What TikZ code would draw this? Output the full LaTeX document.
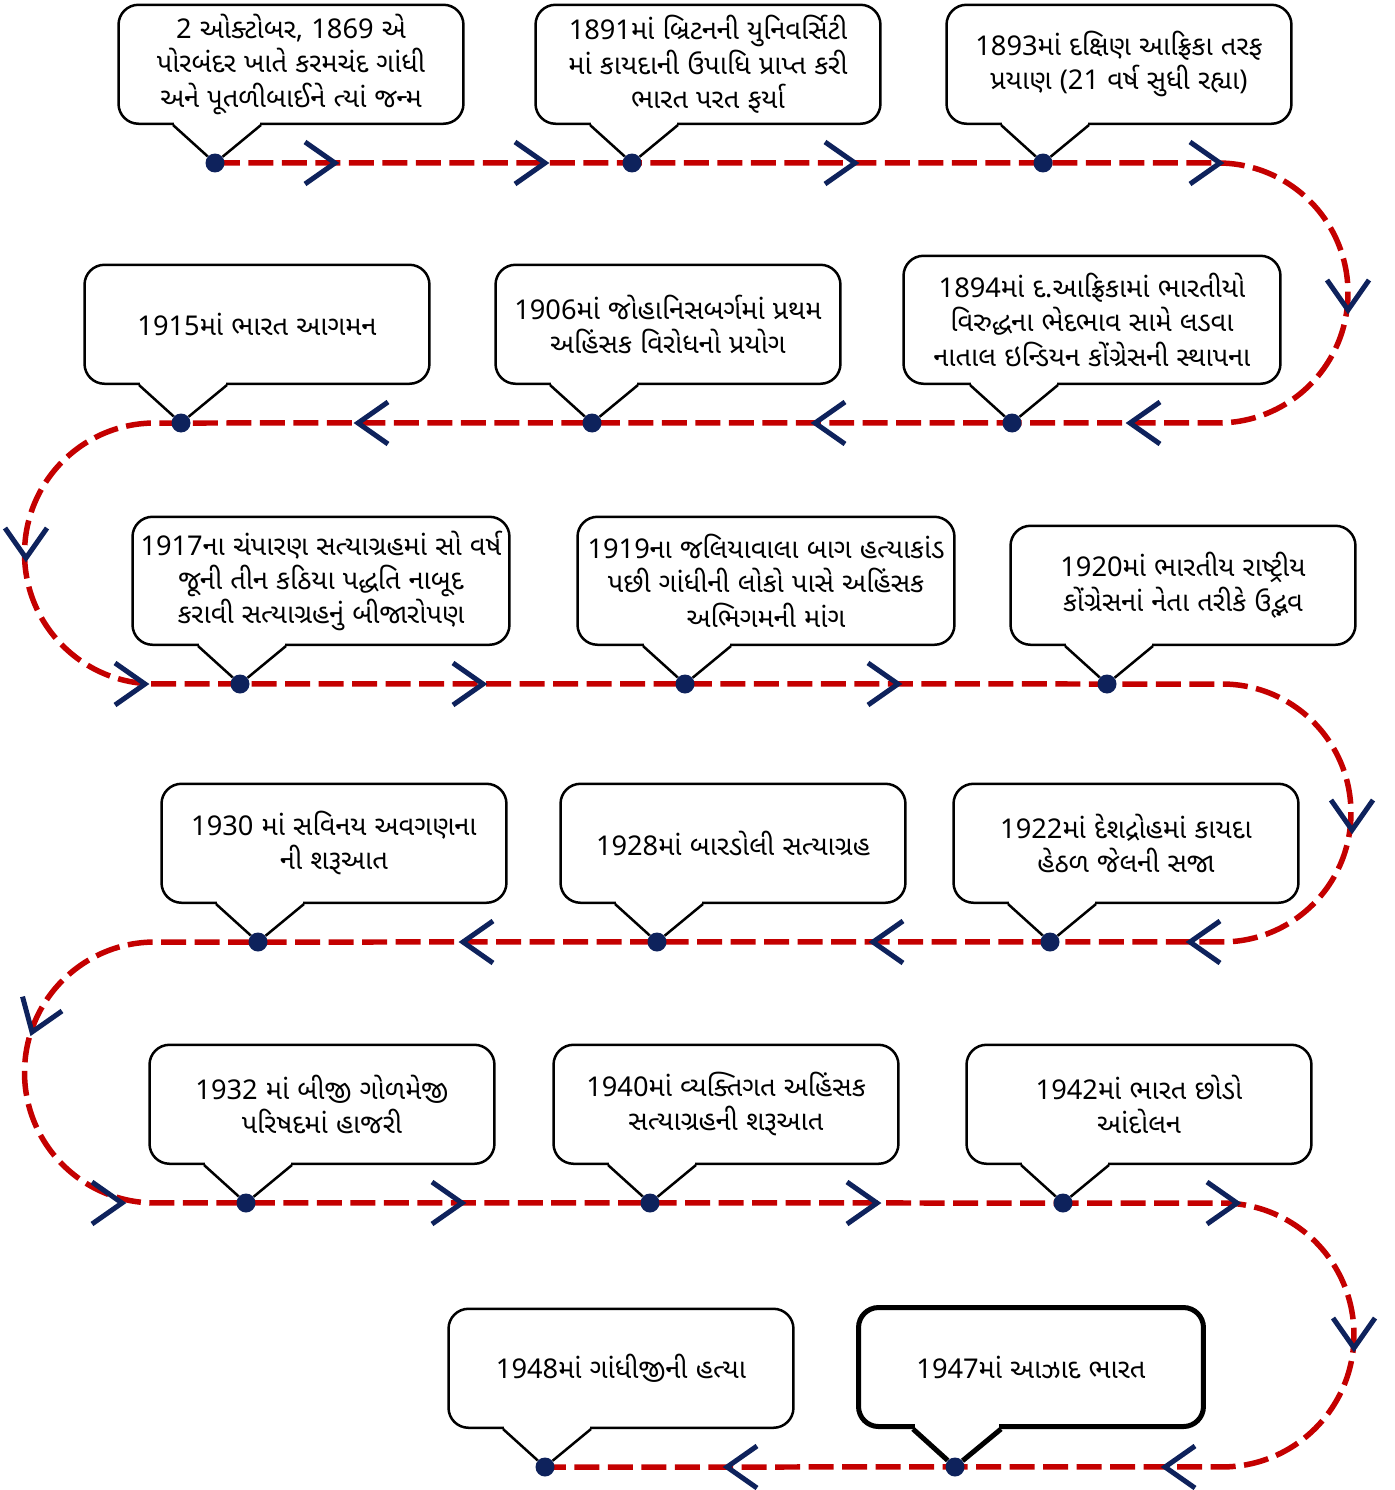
\documentclass[tikz,border=0pt]{standalone}
\usepackage{fontspec}
\setmainfont[Script=Gujarati]{Noto Sans Gujarati UI}
\newfontfamily\latinfont{Noto Sans}
\newcommand{\latn}[1]{{\latinfont #1}}
\usetikzlibrary{positioning,calc}
\definecolor{tlnavy}{RGB}{14,34,92}
\definecolor{tlred}{RGB}{196,0,0}
\pgfdeclarelayer{bg}
\pgfsetlayers{bg,main}
\tikzset{
  callout/.style={draw, fill=white, rounded corners=0.4cm, line width=0.05cm,
    align=center, minimum width=6.9cm, minimum height=2.38cm, inner sep=0pt,
    font=\fontsize{15.5}{19.5}\selectfont},
  widebox/.style={minimum width=7.54cm, minimum height=2.56cm},
  dot/.style={circle, fill=tlnavy, inner sep=0pt, minimum size=0.38cm},
  timeline/.style={tlred, line width=0.11cm, dash pattern=on 0.5cm off 0.17cm},
  ptr/.style={line width=0.05cm, line join=round},
  chev/.pic={\draw[tlnavy, line width=0.1cm, line join=miter] (-30,-21) -- (0,0) -- (-30,21);}
}
\begin{document}
\begin{tikzpicture}[x=0.02cm, y=-0.02cm]
  \useasboundingbox (0,0) rectangle (1394,1490);

  % dots on the timeline
  \foreach \n/\x/\y in {1/215/163, 2/632/163, 3/1043/163,
                        4/1012/423, 5/592/423, 6/181/423,
                        7/240/684, 8/685/684, 9/1107/684,
                        10/1050/942, 11/657/942, 12/258/942,
                        13/246/1203, 14/650/1203, 15/1063/1203,
                        16/955/1467, 17/545/1467}
    \node[dot] (d\n) at (\x,\y) {};

  % turning points
  \coordinate (r1) at (1218,163);
  \coordinate (l1) at (155,423);
  \coordinate (r2) at (1222,684);
  \coordinate (l2) at (155,942);
  \coordinate (r3) at (1222,1203);

  \begin{pgfonlayer}{bg}
    \draw[timeline] (d1.center) -- (r1) arc[start angle=90, end angle=-90, radius=2.6cm]
      -- (l1) arc[start angle=90, end angle=270, radius=2.61cm]
      -- (r2) arc[start angle=90, end angle=-90, radius=2.58cm]
      -- (l2) arc[start angle=90, end angle=270, radius=2.61cm]
      -- (r3) arc[start angle=90, end angle=-90, radius=2.64cm]
      -- (d17.center);
  \end{pgfonlayer}

  % chevrons
  \foreach \x/\y/\a in {335/163/0, 545/163/0, 855/163/0, 1220/163/0,
                        1348/310/-90,
                        1130/423/180, 815/423/180, 358/423/180,
                        26/558/-90,
                        145/684/0, 483/684/0, 898/684/0,
                        1352/830/-90,
                        1190/942/180, 873/942/180, 463/942/180,
                        32/1032/-110,
                        122/1203/0, 462/1203/0, 877/1203/0, 1237/1203/0,
                        1354/1348/-90,
                        1165/1467/180, 727/1467/180}
    \pic[rotate=\a] at (\x,\y) {chev};

  % callouts
  \node[callout, above=0.76cm of d1.center, xshift=1.52cm] (e1)
    {\latn{2} ઓક્ટોબર\latn{,} \latn{1869} એ\\પોરબંદર ખાતે કરમચંદ ગાંધી\\અને પૂતળીબાઈને ત્યાં જન્મ};
  \node[callout, above=0.76cm of d2.center, xshift=1.52cm] (e2)
    {\latn{1891}માં બ્રિટનની યુનિવર્સિટી\\માં કાયદાની ઉપાધિ પ્રાપ્ત કરી\\ભારત પરત ફર્યા};
  \node[callout, above=0.76cm of d3.center, xshift=1.52cm] (e3)
    {\latn{1893}માં દક્ષિણ આફ્રિકા તરફ\\પ્રયાણ \latn{(21} વર્ષ સુધી રહ્યા\latn{)}};
  \node[callout, widebox, above=0.76cm of d4.center, xshift=1.6cm] (e4)
    {\latn{1894}માં દ\latn{.}આફ્રિકામાં ભારતીયો\\વિરુદ્ધના ભેદભાવ સામે લડવા\\નાતાલ ઇન્ડિયન કોંગ્રેસની સ્થાપના};
  \node[callout, above=0.76cm of d5.center, xshift=1.52cm] (e5)
    {\latn{1906}માં જોહાનિસબર્ગમાં પ્રથમ\\અહિંસક વિરોધનો પ્રયોગ};
  \node[callout, above=0.76cm of d6.center, xshift=1.52cm] (e6)
    {\latn{1915}માં ભારત આગમન};
  \node[callout, widebox, above=0.76cm of d7.center, xshift=1.62cm] (e7)
    {\latn{1917}ના ચંપારણ સત્યાગ્રહમાં સો વર્ષ\\જૂની તીન કઠિયા પદ્ધતિ નાબૂદ\\કરાવી સત્યાગ્રહનું બીજારોપણ};
  \node[callout, widebox, above=0.76cm of d8.center, xshift=1.62cm] (e8)
    {\latn{1919}ના જલિયાવાલા બાગ હત્યાકાંડ\\પછી ગાંધીની લોકો પાસે અહિંસક\\અભિગમની માંગ};
  \node[callout, above=0.76cm of d9.center, xshift=1.52cm] (e9)
    {\latn{1920}માં ભારતીય રાષ્ટ્રીય\\કોંગ્રેસનાં નેતા તરીકે ઉદ્ભવ};
  \node[callout, above=0.76cm of d10.center, xshift=1.52cm] (e10)
    {\latn{1922}માં દેશદ્રોહમાં કાયદા\\હેઠળ જેલની સજા};
  \node[callout, above=0.76cm of d11.center, xshift=1.52cm] (e11)
    {\latn{1928}માં બારડોલી સત્યાગ્રહ};
  \node[callout, above=0.76cm of d12.center, xshift=1.52cm] (e12)
    {\latn{1930} માં સવિનય અવગણના\\ની શરૂઆત};
  \node[callout, above=0.76cm of d13.center, xshift=1.52cm] (e13)
    {\latn{1932} માં બીજી ગોળમેજી\\પરિષદમાં હાજરી};
  \node[callout, above=0.76cm of d14.center, xshift=1.52cm] (e14)
    {\latn{1940}માં વ્યક્તિગત અહિંસક\\સત્યાગ્રહની શરૂઆત};
  \node[callout, above=0.76cm of d15.center, xshift=1.52cm] (e15)
    {\latn{1942}માં ભારત છોડો\\આંદોલન};
  \node[callout, line width=0.1cm, above=0.76cm of d16.center, xshift=1.52cm] (e16)
    {\latn{1947}માં આઝાદ ભારત};
  \node[callout, above=0.76cm of d17.center, xshift=1.52cm] (e17)
    {\latn{1948}માં ગાંધીજીની હત્યા};

  % pointers from callouts to dots
  \foreach \n in {1,...,15,17} {
    \fill[white] ($(d\n)+(-41,-41)$) rectangle ($(d\n)+(45,-35)$);
    \draw[ptr] ($(d\n)+(-42,-38)$) -- (d\n) -- ($(d\n)+(46,-38)$);
  }
  \fill[white] ($(d16)+(-40,-43)$) rectangle ($(d16)+(44,-33)$);
  \draw[ptr, line width=0.1cm] ($(d16)+(-42,-38)$) -- (d16) -- ($(d16)+(46,-38)$);
\end{tikzpicture}
\end{document}
